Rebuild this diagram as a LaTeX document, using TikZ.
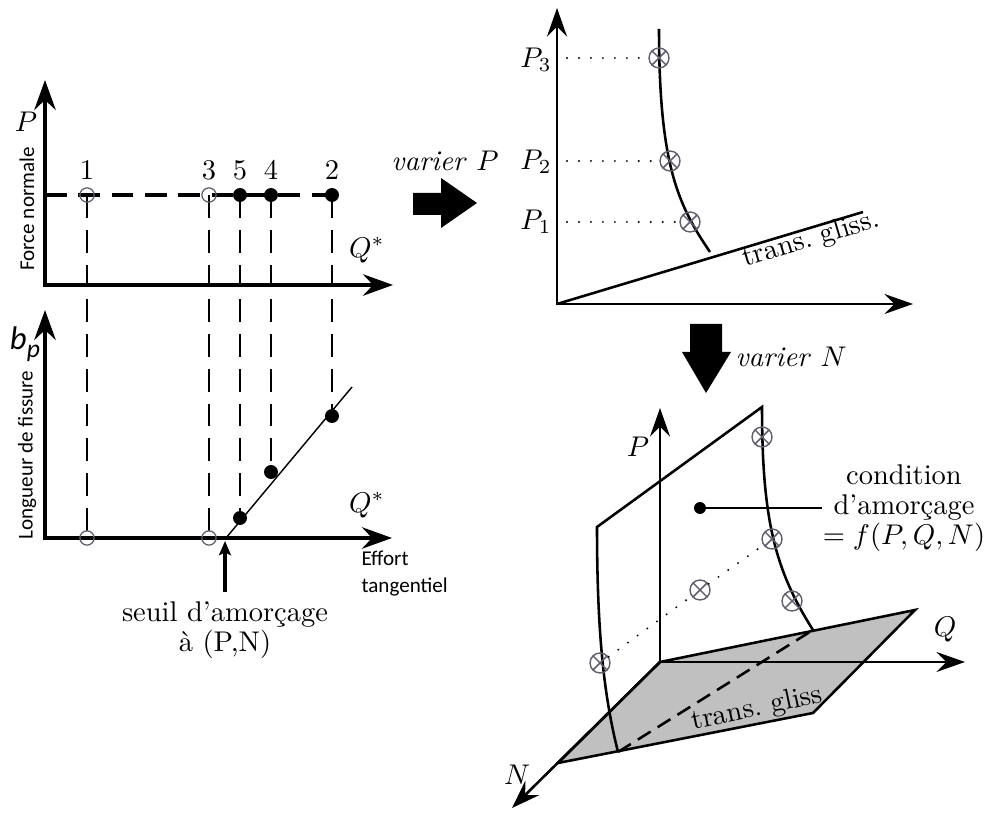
\documentclass[tikz,border=0pt]{standalone}
\usepackage{fontspec}
\newfontfamily\carlito{Carlito}
\usetikzlibrary{arrows.meta}
\definecolor{mk}{RGB}{95,95,110}
\definecolor{planegray}{RGB}{192,192,192}
\begin{document}
\begin{tikzpicture}[x=0.351pt,y=-0.351pt,
  bigax/.style={line width=1.6pt,line join=miter,{Stealth[length=10.5pt,width=7.5pt,inset=3.5pt]}-{Stealth[length=10.5pt,width=7.5pt,inset=3.5pt]}},
  smax/.style={line width=0.9pt,line join=miter,{Stealth[length=10pt,width=7pt,inset=3.5pt]}-{Stealth[length=10pt,width=7pt,inset=3.5pt]}},
  oneax/.style={line width=0.9pt,-{Stealth[length=10pt,width=7pt,inset=3.5pt]}},
  odot/.style={circle,draw=mk,line width=0.45pt,inner sep=0pt,minimum size=5pt},
  fdot/.style={circle,fill=black,inner sep=0pt,minimum size=4.9pt},
  ox/.style={circle,draw=mk,line width=0.5pt,inner sep=0pt,minimum size=7pt,
     path picture={\draw[mk,line width=0.5pt] (path picture bounding box.north west)--(path picture bounding box.south east) (path picture bounding box.north east)--(path picture bounding box.south west);}},
  vdash/.style={line width=0.45pt,dash pattern=on 8pt off 4.2pt},
  dots/.style={line width=0.75pt,line cap=round,dash pattern=on 0pt off 4.2pt},
  lbl/.style={inner sep=0pt},
  sans/.style={font=\carlito\fontsize{7.4}{9.5}\selectfont,inner sep=0pt}
]
\useasboundingbox (0,0) rectangle (986,814);

% ---------- top-left graph ----------
\coordinate (o1) at (45,285);
\coordinate (y1) at (45,80);
\coordinate (x1) at (393,285);
\coordinate (h0) at (45,195);
\coordinate (t1) at (87,195);
\coordinate (t3) at (209,195);
\coordinate (t5) at (240,195);
\coordinate (t4) at (271,195);
\coordinate (t2) at (332,195);
% ---------- bottom-left graph ----------
\coordinate (o2) at (45,538);
\coordinate (y2) at (45,310);
\coordinate (x2) at (392,538);
\coordinate (c1) at (87,538);
\coordinate (c3) at (209,538);
\coordinate (c5) at (240,518);
\coordinate (c4) at (271,472);
\coordinate (c2) at (332,416);
\coordinate (l0) at (226,538);
\coordinate (l1) at (352,387);

\draw[vdash] (t1)--(c1);
\draw[vdash] (t3)--(c3);
\draw[vdash] (t5)--(c5);
\draw[vdash] (t4)--(c4);
\draw[vdash] (t2)--(c2);
\draw[line width=1.6pt,dash pattern=on 7.6pt off 4.1pt] (h0)--(t2);
\draw[bigax] (y1)--(o1)--(x1);
\draw[bigax] (y2)--(o2)--(x2);
\draw[line width=0.5pt] (l0)--(l1);

\node[odot] (p1) at (t1) {};
\node[odot] (p3) at (t3) {};
\node[fdot] (p5) at (t5) {};
\node[fdot] (p4) at (t4) {};
\node[fdot] (p2) at (t2) {};
\node[odot] (q1) at (c1) {};
\node[odot] (q3) at (c3) {};
\node[fdot] (q5) at (c5) {};
\node[fdot] (q4) at (c4) {};
\node[fdot] (q2) at (c2) {};

\node[lbl] (n1) at (87,170) {1};
\node[lbl] (n3) at (209,170) {3};
\node[lbl] (n5) at (240,170) {5};
\node[lbl] (n4) at (271,170) {4};
\node[lbl] (n2) at (332,170) {2};

\node[lbl] (lP) at (26,122) {$P$};
\node[lbl] (lQa) at (367,250) {$Q^*$};
\node[lbl] (lQb) at (367,505) {$Q^*$};
\node[sans,rotate=90] (fn) at (27,209) {Force normale};
\node[sans,rotate=90] (lf) at (27,455) {Longueur de fissure};
\node[inner sep=0pt] (bp) at (25,344) {\carlito\fontsize{11.5}{12}\selectfont\itshape b\raisebox{-2.6pt}{\fontsize{9}{10}\selectfont p}};
\node[sans,align=left,anchor=west] (et) at (361,574) {Effort\\tangentiel};

\coordinate (ab) at (225,592);
\coordinate (at) at (225,541);
\draw[line width=1.4pt,-{Stealth[length=5pt,width=4.2pt,inset=1pt]}] (ab)--(at);
\node[lbl,align=center] (seuil) at (225,630) {seuil d'amorçage\\[-1.5pt]à (P,N)};

% ---------- big arrows ----------
\fill (413,193)--(441,193)--(441,178)--(477,203)--(441,228)--(441,215)--(413,215)--cycle;
\node[lbl] (vP) at (445,161) {\textit{varier} $P$};
\fill (690,324)--(722,324)--(722,352)--(731,352)--(706,393)--(682,352)--(690,352)--cycle;
\node[lbl,anchor=west] (vN) at (735,357) {\textit{varier} $N$};

% ---------- top-right graph ----------
\coordinate (o3) at (557,304);
\coordinate (y3) at (557,8);
\coordinate (x3) at (913,304);
\coordinate (tg) at (863,212);
\draw[smax] (y3)--(o3)--(x3);
\draw[line width=0.9pt] (o3)--(tg);
\draw[line width=0.9pt] (659,29) .. controls (659,165) and (678,205) .. (710,252);
\node[ox] (r3) at (659,58) {};
\node[ox] (r2) at (670,161) {};
\node[ox] (r1) at (690,222) {};
\coordinate (d3) at (567,58);
\coordinate (d2) at (567,161);
\coordinate (d1) at (567,222);
\draw[dots] (d3)--(r3.west);
\draw[dots] (d2)--(r2.west);
\draw[dots] (d1)--(r1.west);
\node[lbl] (P3) at (536,60) {$P_3$};
\node[lbl] (P2) at (536,162) {$P_2$};
\node[lbl] (P1) at (536,222) {$P_1$};
\node[lbl,rotate=16.7] (tg1) at (811,240) {trans.\ gliss.};

% ---------- 3D graph ----------
\coordinate (O) at (660,662);
\coordinate (A) at (558,763);
\coordinate (B) at (813,713);
\coordinate (C) at (915,610);
\coordinate (Pt) at (660,408);
\coordinate (Qt) at (965,662);
\coordinate (Nt) at (512,808);
\fill[planegray] (O)--(A)--(B)--(C)--cycle;
\draw[line width=0.9pt,line join=miter] (O)--(A)--(B)--(C)--cycle;
\coordinate (bl) at (618,752);
\coordinate (br) at (813,630);
\draw[line width=0.9pt,dash pattern=on 5.3pt off 2.9pt] (bl)--(br);
\draw[oneax] (O)--(Pt);
\draw[oneax] (O)--(Qt);
\draw[oneax] (O)--(Nt);
\coordinate (tl) at (597,527);
\coordinate (tr) at (762,407);
\draw[line width=0.9pt] (bl) .. controls (605,700) and (597,640) .. (tl) -- (tr)
   .. controls (762,520) and (775,570) .. (br);
\node[ox] (s1) at (762,437) {};
\node[ox] (s2) at (772,539) {};
\node[ox] (s3) at (792,601) {};
\node[ox] (s4) at (700,590) {};
\node[ox] (s5) at (600,663) {};
\draw[dots] (s5)--(s4)--(s2);
\node[fdot,minimum size=4.2pt] (cd) at (700,508) {};
\coordinate (ce) at (822,508);
\draw[line width=0.9pt] (cd.center)--(ce);
\node[lbl,align=center,font=\fontsize{10}{10.6}\selectfont] (cond) at (904,508) {condition\\d'amorçage\\$=f(P,Q,N)$};
\node[lbl] (lP3) at (638,447) {$P$};
\node[lbl] (lQ3) at (945,630) {$Q$};
\node[lbl] (lN3) at (517,775) {$N$};
\node[lbl,rotate=12] (tg2) at (757,709) {trans.\ gliss};
\end{tikzpicture}
\end{document}
